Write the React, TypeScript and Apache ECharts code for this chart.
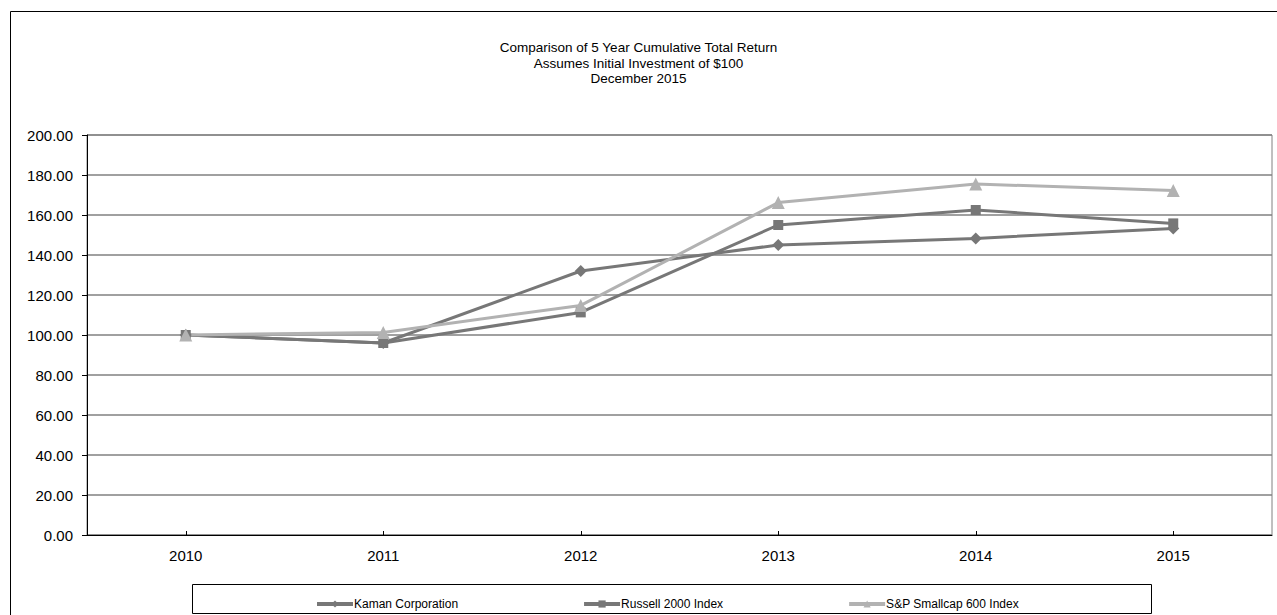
import React, { useEffect, useRef } from "react";
import * as echarts from "echarts";

const categories = ["2010", "2011", "2012", "2013", "2014", "2015"];
const kaman = [100.0, 96.0, 132.0, 145.0, 148.3, 153.3];
const russell = [100.0, 96.0, 111.3, 155.0, 162.5, 155.8];
const spSmallcap = [100.0, 101.3, 114.8, 166.2, 175.5, 172.2];
const seriesNames = ["Kaman Corporation", "Russell 2000 Index", "S&P Smallcap 600 Index"];
const titleLines = [
  "Comparison of 5 Year Cumulative Total Return",
  "Assumes Initial Investment of $100",
  "December 2015",
];

const FONT = "'Liberation Sans', Arial, sans-serif";

export default function App() {
  const ref = useRef<HTMLDivElement>(null);
  useEffect(() => {
    if (!ref.current) return;
    const chart = echarts.init(ref.current, undefined, { renderer: "svg" });
    const mk = (name: string, data: number[], color: string, symbol: string, size: number) => ({
      name,
      type: "line",
      data,
      symbol,
      symbolSize: size,
      showAllSymbol: true,
      lineStyle: { color, width: 3 },
      itemStyle: { color },
      emphasis: { disabled: true },
    });
    chart.setOption({
      animation: false,
      backgroundColor: "#ffffff",
      textStyle: { fontFamily: FONT },
      title: {
        text: titleLines.join("\n"),
        left: "center",
        top: 35,
        textStyle: { fontFamily: FONT, fontSize: 13.5, fontWeight: "normal", color: "#000", lineHeight: 15.5 },
      },
      graphic: [
        {
          type: "rect",
          z: -10,
          shape: { x: 10.5, y: 11.5, width: 1300, height: 700 },
          style: { fill: "none", stroke: "#000", lineWidth: 1 },
        },
        {
          type: "rect",
          z: -10,
          shape: { x: 192.5, y: 584.5, width: 959, height: 29 },
          style: { fill: "none", stroke: "#000", lineWidth: 1 },
        },
      ],
      legend: {
        data: seriesNames,
        left: 310,
        top: 593,
        itemWidth: 36,
        itemHeight: 9,
        itemGap: 124,
        lineStyle: { width: 4 },
        textStyle: { fontFamily: FONT, fontSize: 12, color: "#000", padding: [0, 0, 0, -4] },
      },
      grid: {
        left: 87,
        right: 5,
        top: 135,
        bottom: 80,
        show: true,
        borderColor: "#808080",
        borderWidth: 1,
      },
      xAxis: {
        type: "category",
        data: categories,
        boundaryGap: true,
        axisLine: { lineStyle: { color: "#000", width: 1 } },
        axisTick: { show: true, alignWithLabel: true, inside: true, length: 4, lineStyle: { color: "#000" } },
        axisLabel: { fontFamily: FONT, fontSize: 15, color: "#000", margin: 13 },
        splitLine: { show: false },
      },
      yAxis: {
        type: "value",
        min: 0,
        max: 200,
        interval: 20,
        axisLine: { show: true, lineStyle: { color: "#000", width: 1 } },
        axisTick: { show: true, inside: false, length: 5, lineStyle: { color: "#000" } },
        axisLabel: {
          fontFamily: FONT,
          fontSize: 15,
          color: "#000",
          margin: 14,
          formatter: (v: number) => v.toFixed(2),
        },
        splitLine: { show: true, lineStyle: { color: "#808080", width: 1.5 } },
      },
      series: [
        mk(seriesNames[0], kaman, "#777777", "diamond", 12),
        mk(seriesNames[1], russell, "#777777", "rect", 10),
        mk(seriesNames[2], spSmallcap, "#b2b2b2", "triangle", 13),
      ],
    });
    return () => chart.dispose();
  }, []);
  return (
    <div
      ref={ref}
      style={{ position: "absolute", left: 0, top: 0, width: 1277, height: 615, background: "#fff" }}
    />
  );
}
